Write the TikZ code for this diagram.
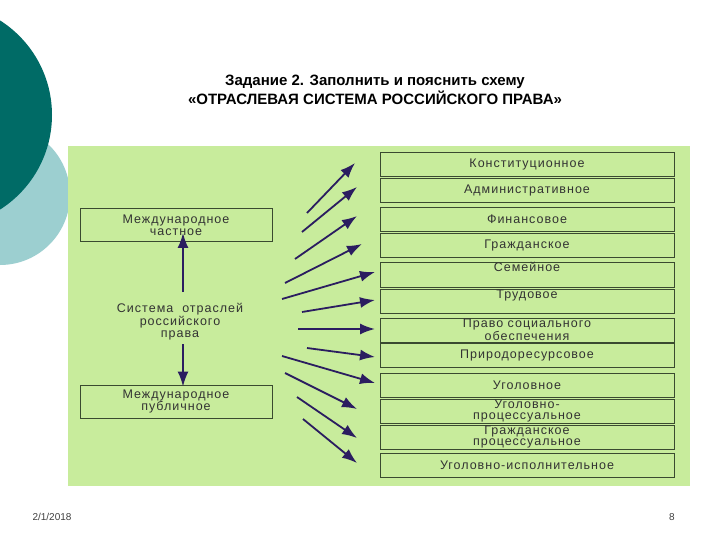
\documentclass[tikz,border=0pt]{standalone}
\usepackage{fontspec}
\setmainfont{Liberation Sans}
\usetikzlibrary{arrows.meta}
\definecolor{panel}{HTML}{C8EC9C}
\definecolor{arr}{HTML}{2B1D60}
\definecolor{darkteal}{HTML}{006B66}
\definecolor{lightteal}{HTML}{9CCFD0}
\definecolor{boxline}{HTML}{3A4A30}
\newfontfamily\wide[LetterSpace=8]{Liberation Sans}
\begin{document}
\begin{tikzpicture}[x=1pt,y=-1pt,
  rbox/.style={draw=boxline,line width=0.9pt,minimum width=294pt,minimum height=24pt,inner sep=0pt,align=center,font=\wide\fontsize{12.5}{10.5}\selectfont,text=black!80},
  lbox/.style={draw=boxline,line width=0.9pt,minimum width=192pt,minimum height=33pt,inner sep=0pt,align=center,font=\wide\fontsize{12.5}{12}\selectfont,text=black!80},
  ar/.style={arr,line width=1.8pt,-{Latex[length=15pt,width=11pt]}}]
\useasboundingbox (0,0) rectangle (720,540);
\fill[white] (0,0) rectangle (720,540);
\fill[lightteal] (0,195) circle (70);
\fill[darkteal] (-60,115) circle (112);
\node[font=\bfseries\fontsize{15}{19}\selectfont,align=center] (title) at (375,90) {Задание 2. Заполнить и пояснить схему\\«ОТРАСЛЕВАЯ СИСТЕМА РОССИЙСКОГО ПРАВА»};
\fill[panel] (68,146) rectangle (690,486);
\node[rbox] (b1) at (527,164) {Конституционное};
\node[rbox] (b2) at (527,190) {Административное};
\node[rbox] (b3) at (527,219) {Финансовое};
\node[rbox] (b4) at (527,245) {Гражданское};
\node[rbox,minimum height=25pt] (b5) at (527,274.5) {Семейное\\[4pt]};
\node[rbox] (b6) at (527,301) {Трудовое\\[4pt]};
\node[rbox] (b7) at (527,330) {Право социального\\обеспечения};
\node[rbox] (b8) at (527,355.5) {Природоресурсовое};
\node[rbox] (b9) at (527,385) {Уголовное};
\node[rbox] (b10) at (527,411) {Уголовно-\\процессуальное};
\node[rbox] (b11) at (527,437) {Гражданское\\процессуальное};
\node[rbox] (b12) at (527,465) {Уголовно-исполнительное};
\node[lbox] (mch) at (176,225) {Международное\\частное};
\node[lbox] (mpb) at (176,401.5) {Международное\\публичное};
\node[align=center,font=\wide\fontsize{12.5}{12.5}\selectfont,text=black!80] (sys) at (180,322) {Система~ отраслей\\российского\\права};
\coordinate (su) at (183,292);
\coordinate (sd) at (183,344);
\draw[ar] (su) -- ([yshift=9pt]su |- mch.south);
\draw[ar] (sd) -- ([yshift=-2pt]sd |- mpb.north);
\coordinate (s1) at (307,213); \coordinate (e1) at (355,163);
\coordinate (s2) at (302,232); \coordinate (e2) at (357,187);
\coordinate (s3) at (295,259); \coordinate (e3) at (357,216);
\coordinate (s4) at (285,283); \coordinate (e4) at (362,244);
\coordinate (s5) at (282,299); \coordinate (e5) at (375,272);
\coordinate (s6) at (302,312); \coordinate (e6) at (375,300);
\coordinate (s7) at (298,329); \coordinate (e7) at (375,329);
\coordinate (s8) at (307,348); \coordinate (e8) at (375,357);
\coordinate (s9) at (282,356); \coordinate (e9) at (375,383);
\coordinate (s10) at (285,373); \coordinate (e10) at (357,409);
\coordinate (s11) at (297,397); \coordinate (e11) at (357,438);
\coordinate (s12) at (303,419); \coordinate (e12) at (357,463);
\foreach \i in {1,...,12} {\draw[ar] (s\i) -- (e\i);}
\node[font=\fontsize{10}{12}\selectfont,text=black!75] (date) at (52,517) {2/1/2018};
\node[font=\fontsize{10}{12}\selectfont,text=black!75] (pg) at (672,517) {8};
\end{tikzpicture}
\end{document}
